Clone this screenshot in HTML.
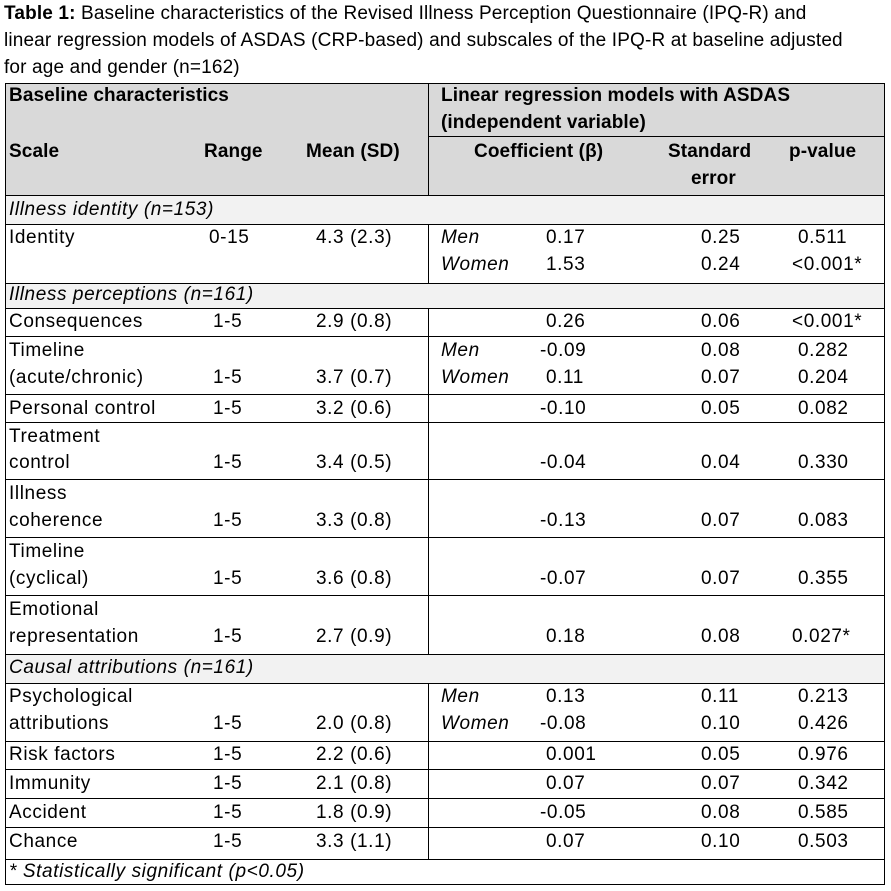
<!DOCTYPE html>
<html><head><meta charset="utf-8">
<style>
html,body{margin:0;padding:0;background:#fff;}
body{width:891px;height:891px;position:relative;overflow:hidden;font-family:"Liberation Sans",Arial,sans-serif;color:#000;}
.t{position:absolute;font-size:19px;line-height:20px;white-space:nowrap;letter-spacing:0.6px;}
.b{font-weight:bold;letter-spacing:0.1px;}
.i{font-style:italic;}
.tt{position:absolute;font-size:19px;line-height:20px;white-space:nowrap;letter-spacing:0.15px;}
.bg{position:absolute;}
.h{position:absolute;height:1px;background:#000;}
.v{position:absolute;width:1px;background:#000;}
</style></head>
<body>
<div class="tt" style="left:4px;top:4px"><b>Table 1:</b> Baseline characteristics of the Revised Illness Perception Questionnaire (IPQ-R) and</div>
<div class="tt" style="left:4px;top:31px">linear regression models of ASDAS (CRP-based) and subscales of the IPQ-R at baseline adjusted</div>
<div class="tt" style="left:4px;top:58px">for age and gender (n=162)</div>

<div class="bg" style="left:5px;top:83px;width:879px;height:112px;background:#d9d9d9"></div>
<div class="bg" style="left:5px;top:195px;width:879px;height:29px;background:#f2f2f2"></div>
<div class="bg" style="left:5px;top:283px;width:879px;height:25px;background:#f2f2f2"></div>
<div class="bg" style="left:5px;top:654px;width:879px;height:29px;background:#f2f2f2"></div>

<div id="lines"></div>
<div id="cells"></div>

<script>
const hLines=[83,136,195,224,283,308,336,394,422,479,537,595,654,683,741,769,798,827,859,884];
const lines=document.getElementById('lines');
hLines.forEach(function(y){
  const d=document.createElement('div');
  d.className='h';
  d.style.left='5px';d.style.top=y+'px';d.style.width='880px';
  if(y===136){d.style.left='428px';d.style.width='457px';}
  
  
  lines.appendChild(d);
});
const vSegs=[[5,83,884],[884,83,884],[428,83,195],[428,224,283],[428,308,654],[428,683,859]];
vSegs.forEach(function(s){
  const d=document.createElement('div');
  d.className='v';
  d.style.left=s[0]+'px';d.style.top=s[1]+'px';d.style.height=(s[2]-s[1]+1)+'px';
  
  
  lines.appendChild(d);
});
const cells=[
[9,96,'Baseline characteristics','b'],[441,96,'Linear regression models with ASDAS','b'],[441,123,'(independent variable)','b'],
[9,152,'Scale','b'],[204,152,'Range','b'],[306,152,'Mean (SD)','b'],[474,152,'Coefficient (β)','b'],[668,152,'Standard','b'],[691,179,'error','b'],[789,152,'p-value','b'],
[9,210,'Illness identity (n=153)','i'],
[9,238,'Identity',''],[209,238,'0-15',''],[316,238,'4.3 (2.3)',''],[441,238,'Men','i'],[546,238,'0.17',''],[701,238,'0.25',''],[798,238,'0.511',''],
[441,265,'Women','i'],[546,265,'1.53',''],[701,265,'0.24',''],[792,265,'<0.001*',''],
[9,295,'Illness perceptions (n=161)','i'],
[9,322,'Consequences',''],[213,322,'1-5',''],[316,322,'2.9 (0.8)',''],[546,322,'0.26',''],[701,322,'0.06',''],[792,322,'<0.001*',''],
[9,351,'Timeline',''],[441,351,'Men','i'],[540,351,'-0.09',''],[701,351,'0.08',''],[798,351,'0.282',''],
[9,378,'(acute/chronic)',''],[213,378,'1-5',''],[316,378,'3.7 (0.7)',''],[441,378,'Women','i'],[546,378,'0.11',''],[701,378,'0.07',''],[798,378,'0.204',''],
[9,409,'Personal control',''],[213,409,'1-5',''],[316,409,'3.2 (0.6)',''],[540,409,'-0.10',''],[701,409,'0.05',''],[798,409,'0.082',''],
[9,437,'Treatment',''],[9,463,'control',''],[213,463,'1-5',''],[316,463,'3.4 (0.5)',''],[540,463,'-0.04',''],[701,463,'0.04',''],[798,463,'0.330',''],
[9,494,'Illness',''],[9,521,'coherence',''],[213,521,'1-5',''],[316,521,'3.3 (0.8)',''],[540,521,'-0.13',''],[701,521,'0.07',''],[798,521,'0.083',''],
[9,552,'Timeline',''],[9,579,'(cyclical)',''],[213,579,'1-5',''],[316,579,'3.6 (0.8)',''],[540,579,'-0.07',''],[701,579,'0.07',''],[798,579,'0.355',''],
[9,610,'Emotional',''],[9,637,'representation',''],[213,637,'1-5',''],[316,637,'2.7 (0.9)',''],[546,637,'0.18',''],[701,637,'0.08',''],[792,637,'0.027*',''],
[9,668,'Causal attributions (n=161)','i'],
[9,697,'Psychological',''],[441,697,'Men','i'],[546,697,'0.13',''],[701,697,'0.11',''],[798,697,'0.213',''],
[9,724,'attributions',''],[213,724,'1-5',''],[316,724,'2.0 (0.8)',''],[441,724,'Women','i'],[540,724,'-0.08',''],[701,724,'0.10',''],[798,724,'0.426',''],
[9,755,'Risk factors',''],[213,755,'1-5',''],[316,755,'2.2 (0.6)',''],[546,755,'0.001',''],[701,755,'0.05',''],[798,755,'0.976',''],
[9,784,'Immunity',''],[213,784,'1-5',''],[316,784,'2.1 (0.8)',''],[546,784,'0.07',''],[701,784,'0.07',''],[798,784,'0.342',''],
[9,813,'Accident',''],[213,813,'1-5',''],[316,813,'1.8 (0.9)',''],[540,813,'-0.05',''],[701,813,'0.08',''],[798,813,'0.585',''],
[9,842,'Chance',''],[213,842,'1-5',''],[316,842,'3.3 (1.1)',''],[546,842,'0.07',''],[701,842,'0.10',''],[798,842,'0.503',''],
[9,872,'* Statistically significant (p<0.05)','i']
];
const host=document.getElementById('cells');
cells.forEach(function(c){
  const d=document.createElement('div');
  d.className='t '+c[3];
  d.style.left=c[0]+'px';d.style.top=(c[1]-10)+'px';
  d.textContent=c[2];
  
  
  host.appendChild(d);
});
</script>
</body></html>
